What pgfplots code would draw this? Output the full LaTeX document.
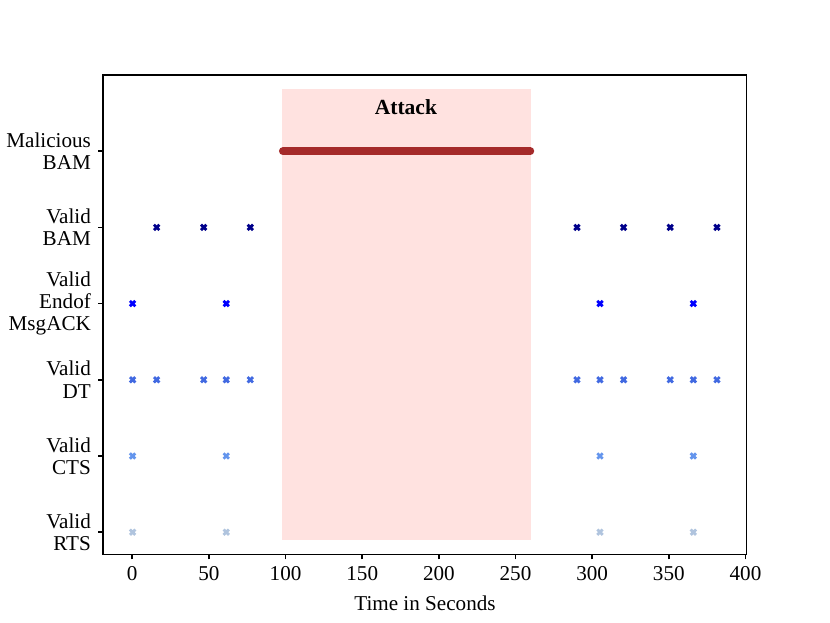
\documentclass[border=0pt]{standalone}
\usepackage{pgfplots}
\pgfplotsset{compat=1.18}
\usepackage{fontspec}
\setmainfont{Liberation Serif}
\definecolor{cBAM}{RGB}{0,0,139}
\definecolor{cACK}{RGB}{0,0,255}
\definecolor{cDT}{RGB}{65,105,225}
\definecolor{cCTS}{RGB}{100,149,237}
\definecolor{cRTS}{RGB}{176,196,222}
\definecolor{cMal}{RGB}{165,42,42}
\definecolor{cSpan}{RGB}{255,226,224}
\pgfplotsset{xmk/.style={only marks, mark=x, mark size=1.9bp, mark options={line width=1.4bp}}}
\begin{document}
\fontsize{10.6}{11.2}\selectfont
\begin{tikzpicture}
\path[use as bounding box] (-51.65bp,-34.35bp) rectangle (363.35bp,277.15bp);
\begin{axis}[at={(0,0)}, anchor=south west, scale only axis,
  width=321.7bp, height=239.65bp,
  xmin=-18.9, xmax=400.8, ymin=-0.29, ymax=6.0,
  xtick={0,50,...,400}, ytick={0,1,2,3,4,5},
  yticklabels={{Valid\\RTS},{Valid\\CTS},{Valid\\DT},{Valid\\Endof\\MsgACK},{Valid\\BAM},{Malicious\\BAM}},
  yticklabel style={align=right, font=\fontsize{10.6}{11.2}\selectfont},
  xticklabel style={font=\fontsize{10.6}{11}\selectfont},
  tick align=outside, xtick pos=bottom, ytick pos=left,
  major tick length=2.5bp,
  axis line style={line width=0.8bp},
  tick style={line width=0.8bp, black},
  xlabel={Time in Seconds},
  xlabel style={font=\fontsize{10.6}{11.2}\selectfont},
  /pgf/number format/assume math mode=true,
  clip=false,
]
\addplot[fill=cSpan, draw=none, mark=none] coordinates {(97.4,-0.1) (259.9,-0.1) (259.9,5.81) (97.4,5.81)} -- cycle;
\addplot[cMal, line width=4bp, line cap=round, mark=none] coordinates {(98.3,5) (259.6,5)};
\node[font=\bfseries\fontsize{10.8}{12}\selectfont] at (axis cs:178.5,5.58) {Attack};
\addplot[cBAM, xmk] coordinates {(15.9,4) (46.6,4) (77.0,4) (290.1,4) (320.5,4) (350.9,4) (381.4,4)};
\addplot[cACK, xmk] coordinates {(0.2,3) (61.3,3) (305.1,3) (366.0,3)};
\addplot[cDT, xmk] coordinates {(0.2,2) (15.9,2) (46.6,2) (61.3,2) (77.0,2) (290.1,2) (305.1,2) (320.5,2) (350.9,2) (366.0,2) (381.4,2)};
\addplot[cCTS, xmk] coordinates {(0.2,1) (61.3,1) (305.1,1) (366.0,1)};
\addplot[cRTS, xmk] coordinates {(0.2,0) (61.3,0) (305.1,0) (366.0,0)};
\end{axis}
\end{tikzpicture}
\end{document}
